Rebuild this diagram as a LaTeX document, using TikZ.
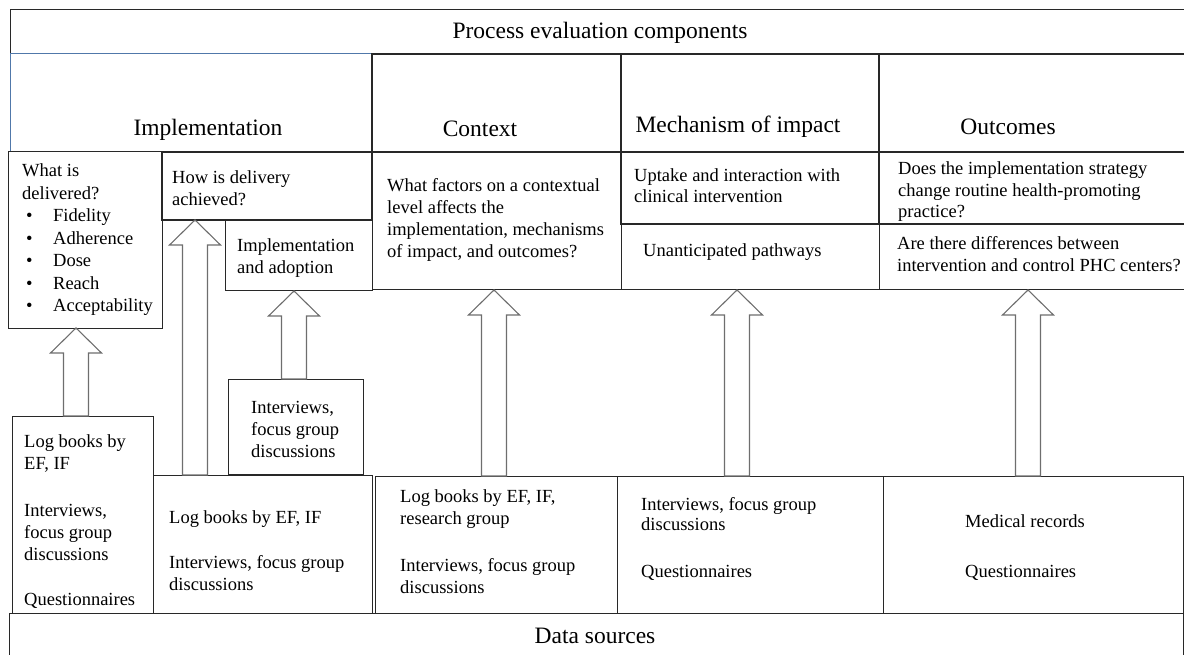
\documentclass[tikz,border=0pt]{standalone}
\usepackage{fontspec}
\setmainfont{Liberation Serif}
\usetikzlibrary{calc, fit}

\definecolor{edge}{RGB}{40,40,40}
\definecolor{implblue}{RGB}{80,120,170}
\definecolor{arrowgray}{RGB}{110,110,110}

% hollow block arrow from the north side of #1 up to the south side of #2, at x = #3
\newcommand{\blockarrow}[3]{%
  \draw[blockarr] let \p1=(#1.north), \p2=(#2.south) in
    (#3pt-12.5pt,\y1) -- (#3pt-12.5pt,\y2-25pt) -- (#3pt-25.5pt,\y2-25pt)
    -- (#3pt,\y2) -- (#3pt+25.5pt,\y2-25pt) -- (#3pt+12.5pt,\y2-25pt)
    -- (#3pt+12.5pt,\y1) -- cycle;}
\newcommand{\bul}{\hspace*{4pt}\makebox[27pt][l]{\textbullet}}

\begin{document}
\begin{tikzpicture}[x=1pt, y=-1pt,
  box/.style={draw=edge, line width=1pt, inner sep=0pt, outer sep=0pt},
  thickbox/.style={box, line width=1.3pt},
  blockarr/.style={draw=arrowgray, line width=1.1pt, fill=white},
  head/.style={anchor=base, inner sep=0pt, font=\fontsize{23.5}{28}\selectfont},
  % multi-line texts are placed at the baseline of their last line
  txt/.style={anchor=base west, align=left, inner sep=0pt,
    font=\fontsize{18.5}{22}\selectfont}]
  \useasboundingbox (0,0) rectangle (1184,655);

  % title rows
  \node[box, fit={(10,10) (1190,54)}] (title) {};
  \node[box, draw=implblue, fit={(10,54) (372,152)}] (hImpl) {};
  \node[thickbox, fit={(372,54) (621,152)}] (hCtx) {};
  \node[thickbox, fit={(621,54) (879,152)}] (hMech) {};
  \node[thickbox, fit={(879,54) (1190,152)}] (hOut) {};

  % questions
  \node[box, fit={(8,152) (162,328)}] (qWhat) {};
  \node[thickbox, fit={(162,152) (372,220)}] (qHow) {};
  \node[box, fit={(225,221) (372,291)}] (qAdopt) {};
  \node[box, fit={(372,152) (621,290)}] (qCtx) {};
  \node[thickbox, fit={(621,152) (879,224)}] (qUptake) {};
  \node[box, fit={(621,224) (879,290)}] (qUnant) {};
  \node[thickbox, fit={(879,152) (1190,224)}] (qDoes) {};
  \node[box, fit={(879,224) (1190,290)}] (qDiff) {};

  % data sources
  \node[box, fit={(12,416) (153,613)}] (dLeft) {};
  \node[box, fit={(228,379) (363,474)}] (dInt) {};
  \node[box, fit={(153,475) (372,613)}] (dImpl) {};
  \node[box, fit={(375,476) (617,613)}] (dCtx) {};
  \node[box, fit={(617,476) (883,613)}] (dMech) {};
  \node[box, fit={(883,476) (1183,613)}] (dOut) {};
  \node[box, fit={(9,613) (1183,665)}] (bottom) {};

  % arrows
  \blockarrow{dLeft}{qWhat}{76}
  \blockarrow{dImpl}{qHow}{195}
  \blockarrow{dInt}{qAdopt}{294}
  \blockarrow{dCtx}{qCtx}{494}
  \blockarrow{dMech}{qUnant}{737}
  \blockarrow{dOut}{qDiff}{1028}

  % headings
  \node[head] (tTitle) at (600,39) {Process evaluation components};
  \node[head] (tImpl) at (208,136) {Implementation};
  \node[head] (tCtx) at (480,137) {Context};
  \node[head] (tMech) at (738,133) {Mechanism of impact};
  \node[head] (tOut) at (1008,135) {Outcomes};
  \node[head] (tData) at (595,643) {Data sources};

  % question texts
  \node[txt, font=\fontsize{18.5}{22.5}\selectfont] (tWhat) at (22,312)
    {What is\\delivered?\\\bul Fidelity\\\bul Adherence\\\bul Dose\\\bul Reach\\\bul Acceptability};
  \node[txt] (tHow) at (172,206) {How is delivery\\achieved?};
  \node[txt] (tAdopt) at (237,273) {Implementation\\and adoption};
  \node[txt] (tCtxQ) at (387,258)
    {What factors on a contextual\\level affects the\\implementation, mechanisms\\of impact, and outcomes?};
  \node[txt, font=\fontsize{18.5}{21}\selectfont] (tUptake) at (634,203)
    {Uptake and interaction with\\clinical intervention};
  \node[txt] (tUnant) at (643,257) {Unanticipated pathways};
  \node[txt, font=\fontsize{18.5}{21.5}\selectfont] (tDoes) at (898,218)
    {Does the implementation strategy\\change routine health-promoting\\practice?};
  \node[txt] (tDiff) at (897,272)
    {Are there differences between\\intervention and control PHC centers?};

  % data texts
  \node[txt] (tLogL) at (24,605)
    {Log books by\\EF, IF\\[25pt]Interviews,\\focus group\\discussions\\[23pt]Questionnaires};
  \node[txt] (tIntS) at (251,457) {Interviews,\\focus group\\discussions};
  \node[txt] (tLogI) at (169,590)
    {Log books by EF, IF\\[23pt]Interviews, focus group\\discussions};
  \node[txt] (tLogC) at (400,593)
    {Log books by EF, IF,\\research group\\[25pt]Interviews, focus group\\discussions};
  \node[txt, font=\fontsize{18.5}{20.5}\selectfont] (tIntM) at (641,577)
    {Interviews, focus group\\discussions\\[26pt]Questionnaires};
  \node[txt] (tMed) at (965,577) {Medical records\\[28pt]Questionnaires};
\end{tikzpicture}
\end{document}
